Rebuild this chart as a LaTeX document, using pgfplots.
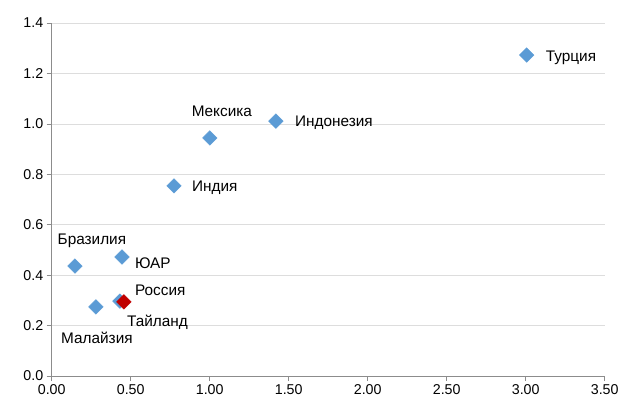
\documentclass[border=0pt]{standalone}
\usepackage{pgfplots}
\pgfplotsset{compat=1.18}
\usepackage{fontspec}
\setmainfont{Liberation Sans}
\definecolor{ptblue}{HTML}{5B9BD5}
\definecolor{ptred}{HTML}{C00000}
\definecolor{axgray}{HTML}{8C8C8C}
\definecolor{gridgray}{HTML}{DDDDDD}
\begin{document}
\begin{tikzpicture}
\begin{axis}[
  scale only axis,
  width=553bp, height=353bp,
  xmin=0, xmax=3.5, ymin=0, ymax=1.4,
  xtick={0,0.5,1,1.5,2,2.5,3,3.5},
  ytick={0,0.2,0.4,0.6,0.8,1.0,1.2,1.4},
  axis x line*=bottom, axis y line*=left,
  axis line style={axgray, line width=0.7pt, -},
  tick style={axgray, line width=0.7pt},
  tick align=outside, major tick length=5bp,
  ymajorgrids, grid style={gridgray, line width=0.6pt},
  xticklabel style={/pgf/number format/fixed, /pgf/number format/fixed zerofill, /pgf/number format/precision=2, font=\fontsize{14.3}{16}\selectfont},
  yticklabel style={/pgf/number format/fixed, /pgf/number format/fixed zerofill, /pgf/number format/precision=1, font=\fontsize{14.3}{16}\selectfont},
  /pgf/number format/assume math mode=true,
  scaled ticks=false,
  clip=false,
]
\addplot[only marks, mark=square*, mark size=5.2pt, mark options={rotate=45, fill=ptblue, draw=ptblue}] coordinates {
  (3.006,1.273) (1.419,1.011) (1.001,0.944) (0.774,0.754) (0.147,0.436)
  (0.445,0.472) (0.280,0.274) (0.432,0.297)
};
\addplot[only marks, mark=square*, mark size=5.2pt, mark options={rotate=45, fill=ptred, draw=ptred}] coordinates {
  (0.457,0.294)
};
\tikzset{lbl/.style={inner sep=0pt, font=\fontsize{15.4}{17}\selectfont}}
\node[lbl, anchor=base west, xshift=19bp, yshift=-6.7bp] at (axis cs:3.006,1.273) {Турция};
\node[lbl, anchor=base west, xshift=19bp, yshift=-5.7bp] at (axis cs:1.419,1.011) {Индонезия};
\node[lbl, anchor=base, xshift=12bp, yshift=21.3bp] at (axis cs:1.001,0.944) {Мексика};
\node[lbl, anchor=base west, xshift=18bp, yshift=-5.7bp] at (axis cs:0.774,0.754) {Индия};
\node[lbl, anchor=base, xshift=17bp, yshift=22bp] at (axis cs:0.147,0.436) {Бразилия};
\node[lbl, anchor=base west, xshift=13bp, yshift=-11.3bp] at (axis cs:0.445,0.472) {ЮАР};
\node[lbl, anchor=base west, xshift=11bp, yshift=6bp] at (axis cs:0.457,0.294) {Россия};
\node[lbl, anchor=base west, xshift=7bp, yshift=-25bp] at (axis cs:0.432,0.297) {Тайланд};
\node[lbl, anchor=base, xshift=1bp, yshift=-37bp] at (axis cs:0.280,0.274) {Малайзия};
\end{axis}
\path (-51.7bp,-29bp) rectangle (570.3bp,376bp);
\end{tikzpicture}
\end{document}
